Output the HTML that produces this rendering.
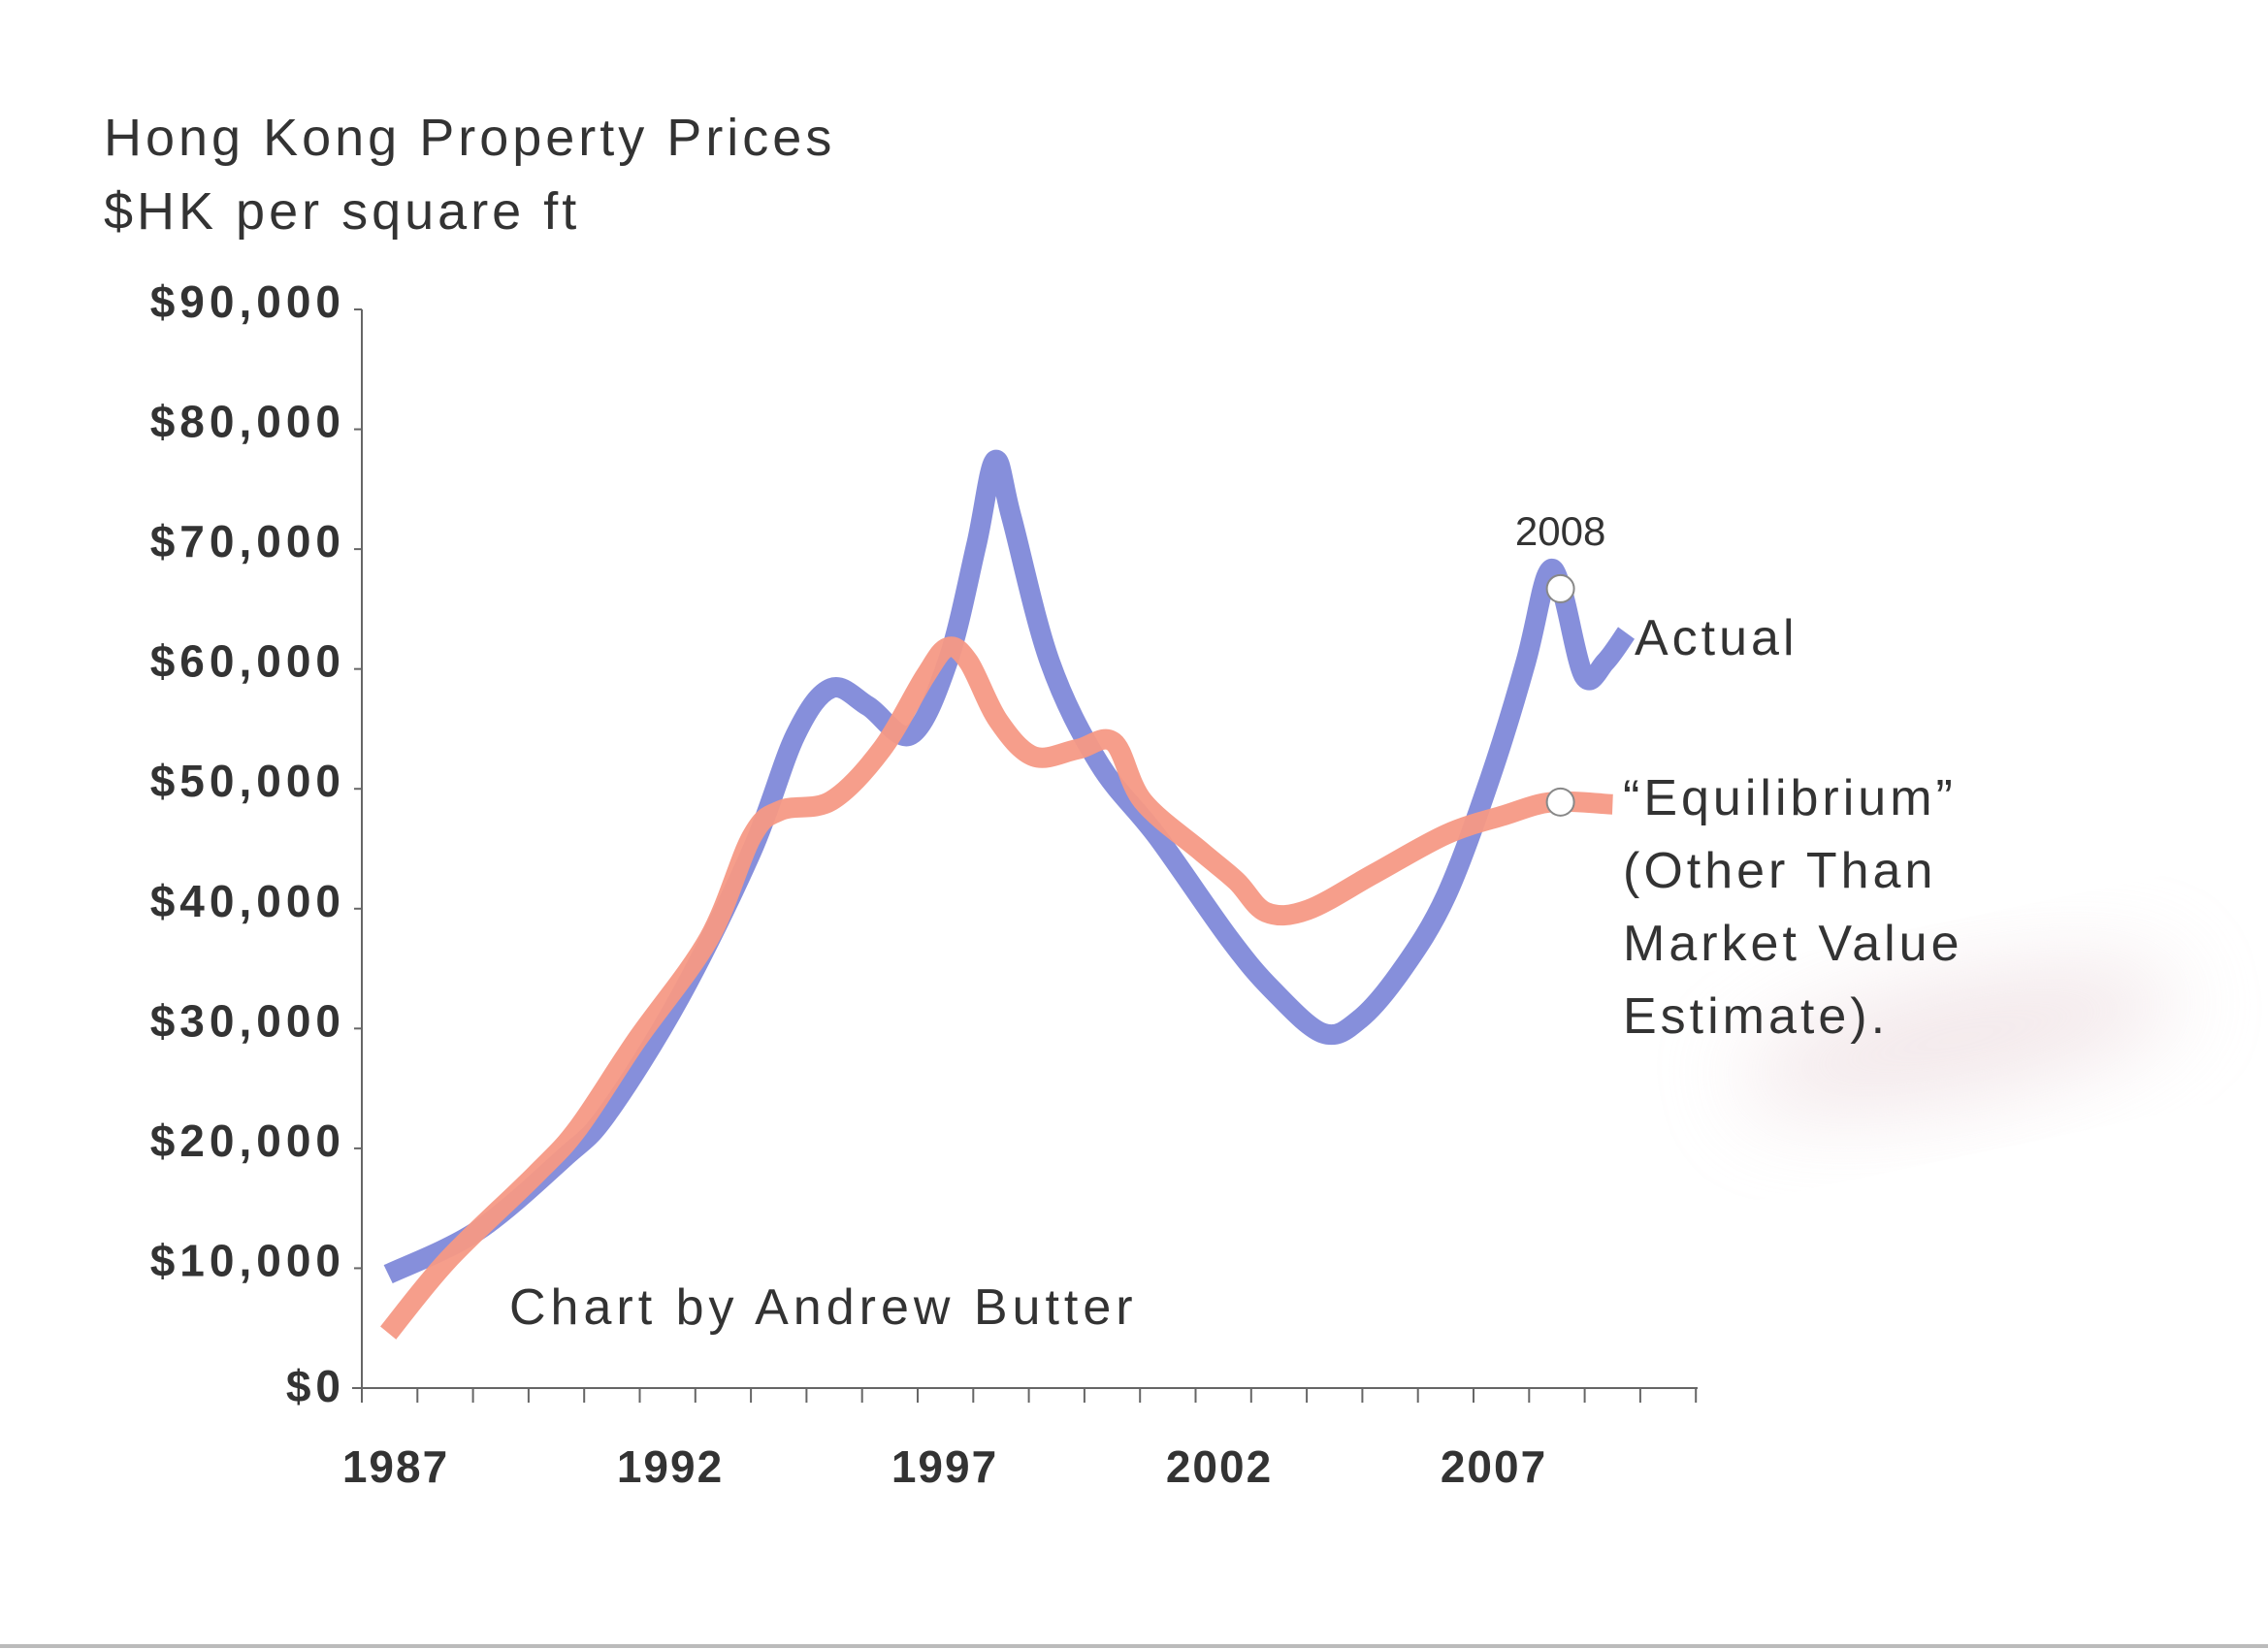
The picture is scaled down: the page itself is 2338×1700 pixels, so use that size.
<!DOCTYPE html>
<html><head><meta charset="utf-8">
<style>
html,body{margin:0;padding:0;background:#fff;}
body{width:2338px;height:1700px;overflow:hidden;position:relative;font-family:"Comic Sans MS","Liberation Sans",sans-serif;}
svg{position:absolute;left:0;top:0;}
</style></head>
<body>
<svg id="chart" width="2338" height="1700" viewBox="0 0 2338 1700">
  <defs>
    <filter id="blur" x="-50%" y="-50%" width="200%" height="200%"><feGaussianBlur stdDeviation="45"/></filter>
    <clipPath id="labelclip"><rect x="0" y="0" width="2043" height="1700"/></clipPath>
  </defs>
  <rect x="0" y="0" width="2338" height="1700" fill="#fff"/>
  <ellipse cx="2020" cy="1070" rx="230" ry="60" fill="#ead8dc" opacity="0.6" filter="url(#blur)" transform="rotate(-12 2020 1070)"/>
  <line x1="0" y1="1697" x2="2338" y2="1697" stroke="#bbb" stroke-width="4"/>
  <text x="107" y="160" font-size="54" letter-spacing="4" fill="#333">Hong Kong Property Prices</text>
  <text x="107" y="236" font-size="54" letter-spacing="4" fill="#333">$HK per square ft</text>
  <g id="axes"></g>
  <g id="series"></g>
  <text x="525" y="1365" font-size="52" letter-spacing="5" fill="#333">Chart by Andrew Butter</text>
  <text x="1685" y="675" font-size="52" letter-spacing="4" fill="#333">Actual</text>
  <g font-size="52" letter-spacing="4" fill="#333" clip-path="url(#labelclip)">
    <text x="1673" y="840">“Equilibrium”</text>
    <text x="1673" y="915">(Other Than</text>
    <text x="1673" y="990">Market Value</text>
    <text x="1673" y="1065">Estimate).</text>
  </g>
</svg>
<script>
const yTickLabels = ["$0","$10,000","$20,000","$30,000","$40,000","$50,000","$60,000","$70,000","$80,000","$90,000"];
const yTickValues = [0,10000,20000,30000,40000,50000,60000,70000,80000,90000];
const xTickLabels = ["1987","1992","1997","2002","2007"];
const xTickYears = [1987,1992,1997,2002,2007];
const actualYears = [1986.65,1988.27,1989.85,1990.64,1991.96,1993.27,1994.07,1994.72,1995.39,1996.17,1996.84,1997.36,1997.7,1998.0,1998.7,1999.6,2000.66,2001.97,2002.76,2003.68,2004.35,2005.13,2005.92,2006.72,2007.37,2007.76,2008.02,2008.43,2008.82,2009.2];
const actualValues = [9500,13100,19200,22900,32600,44800,54500,58400,56900,54500,60600,70300,77400,72700,60600,52100,46000,37500,33200,29600,30800,35000,41100,50900,60600,67900,66700,59400,60600,63000];
const equilYears = [1986.65,1987.74,1989.33,1990.11,1991.17,1992.49,1993.27,1993.8,1994.72,1995.64,1996.43,1996.84,1997.22,1997.76,1998.41,1999.2,1999.86,2000.39,2001.45,2002.1,2002.64,2003.4,2004.6,2005.92,2006.98,2007.85,2008.95];
const equilValues = [4600,10700,17800,21700,29000,37500,46000,48200,49000,53300,59400,61800,60600,55700,52700,53300,53900,49000,44800,42300,39700,39900,42900,46200,47800,48900,48700];
const markerYear = 2008;
const markerActual = 66700;
const markerEquil = 48900;

const NS="http://www.w3.org/2000/svg";
const X0=373, Y0=1431, XMAX=1750, YTOP=319;
function xs(year){return 420+(year-1987)*56.6;}
function ys(v){return Y0-(v/90000)*(Y0-YTOP);}
function mk(tag,attrs,parent){const e=document.createElementNS(NS,tag);for(const k in attrs)e.setAttribute(k,attrs[k]);parent.appendChild(e);return e;}
const axes=document.getElementById('axes');
const series=document.getElementById('series');

const ya=mk('line',{x1:X0,y1:YTOP,x2:X0,y2:Y0,stroke:'#666','stroke-width':2},axes);


const xa=mk('line',{x1:X0-10,y1:Y0,x2:XMAX,y2:Y0,stroke:'#666','stroke-width':2},axes);



yTickValues.forEach((v,i)=>{
  const y=ys(v);
  const t=mk('line',{x1:X0-8,y1:y,x2:X0,y2:y,stroke:'#666','stroke-width':2},axes);
  
  
  const tx=mk('text',{x:356,y:y+(v===0?14:8),'font-size':46,'letter-spacing':5,'text-anchor':'end',fill:'#333','font-weight':'bold'},axes);
  tx.textContent=yTickLabels[i];
  
  
});
for(let k=0;k<=24;k++){
  const x=X0+k*57.3;
  const t=mk('line',{x1:x,y1:Y0,x2:x,y2:Y0+15,stroke:'#666','stroke-width':2},axes);
  
  
}
xTickYears.forEach((yr,i)=>{
  const tx=mk('text',{x:xs(yr)-12,y:1528,'font-size':46,'letter-spacing':2,'text-anchor':'middle',fill:'#333','font-weight':'bold'},axes);
  tx.textContent=xTickLabels[i];
  
  
});

function smoothPath(xsArr,vals){
  const p=xsArr.map((yr,i)=>[xs(yr),ys(vals[i])]);
  let d='M'+p[0][0]+','+p[0][1];
  for(let i=0;i<p.length-1;i++){
    const p0=p[i-1]||p[i],p1=p[i],p2=p[i+1],p3=p[i+2]||p2;
    const c1x=p1[0]+(p2[0]-p0[0])/6,c1y=p1[1]+(p2[1]-p0[1])/6;
    const c2x=p2[0]-(p3[0]-p1[0])/6,c2y=p2[1]-(p3[1]-p1[1])/6;
    d+=' C'+c1x+','+c1y+' '+c2x+','+c2y+' '+p2[0]+','+p2[1];
  }
  return d;
}
const la=mk('path',{d:smoothPath(actualYears,actualValues),fill:'none',stroke:'#7f89d9','stroke-width':21,'stroke-linecap':'butt','stroke-linejoin':'round',opacity:0.95},series);


const le=mk('path',{d:smoothPath(equilYears,equilValues),fill:'none',stroke:'#f59985','stroke-width':21,'stroke-linecap':'butt','stroke-linejoin':'round',opacity:0.95},series);



const m1=mk('circle',{cx:xs(markerYear),cy:ys(markerActual),r:14,fill:'#fff',stroke:'#888','stroke-width':2},series);


const m2=mk('circle',{cx:xs(markerYear),cy:ys(markerEquil),r:14,fill:'#fff',stroke:'#888','stroke-width':2},series);


const ml=mk('text',{x:xs(markerYear),y:ys(markerActual)-45,'font-size':42,'text-anchor':'middle',fill:'#333'},series);
ml.textContent='2008';


</script>
</body></html>
